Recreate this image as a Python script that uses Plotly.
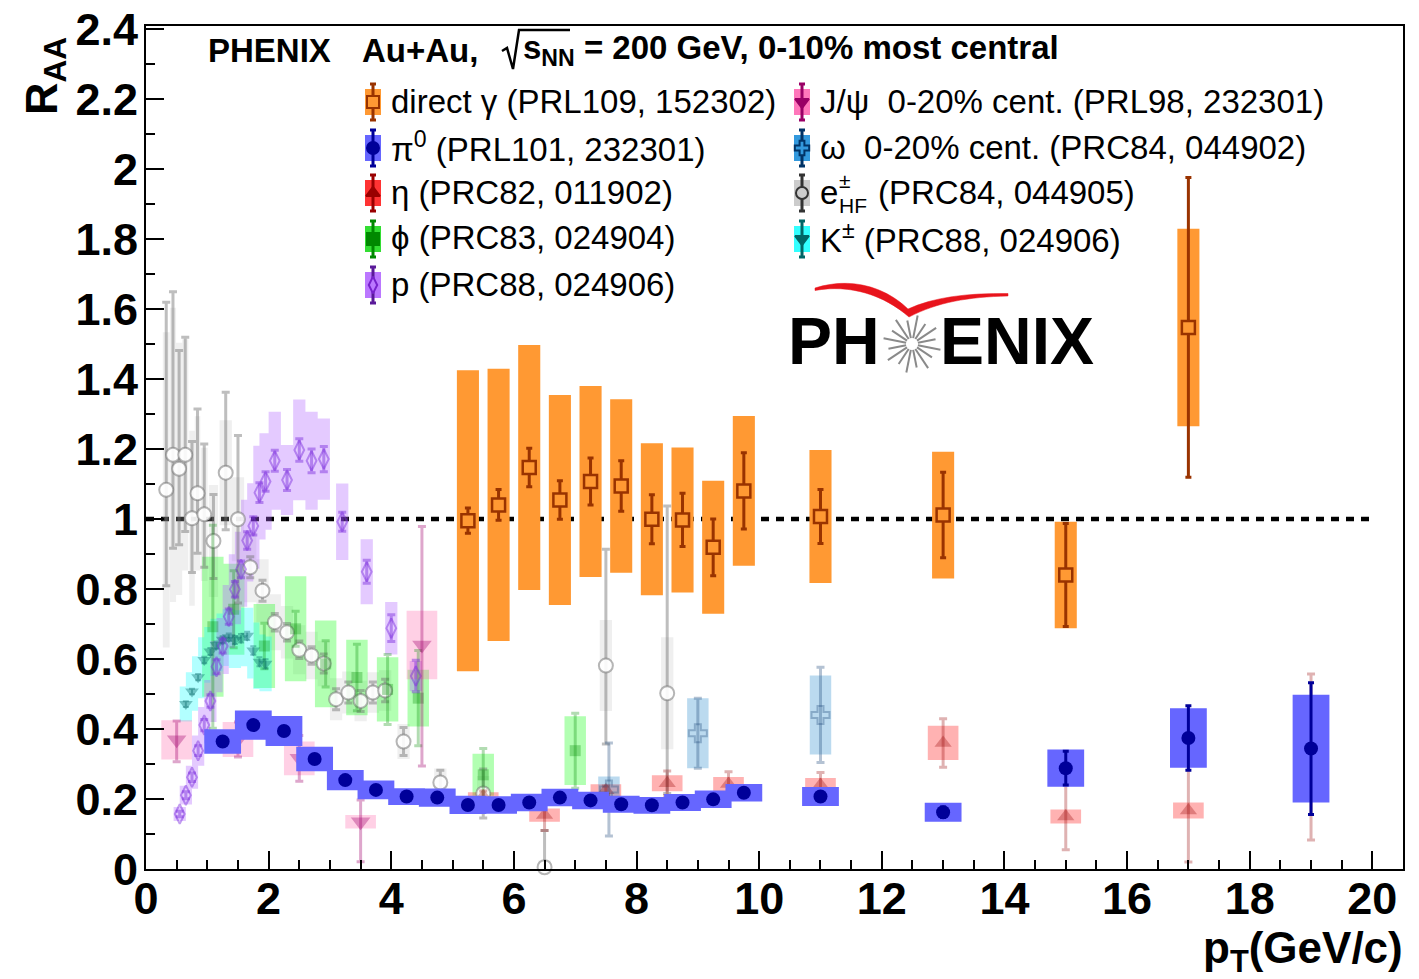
import math
import numpy as np
import plotly.graph_objects as go

# ---------------------------------------------------------------- data
# pi0 (PRL101, 232301)
pi0_pt   = [1.25, 1.75, 2.25, 2.75, 3.25, 3.75, 4.25, 4.75, 5.25, 5.75, 6.25, 6.75, 7.25, 7.75,
            8.25, 8.75, 9.25, 9.75, 11, 13, 15, 17, 19]
pi0_raa  = [0.364, 0.411, 0.394, 0.314, 0.254, 0.226, 0.207, 0.204, 0.183, 0.183, 0.19, 0.204,
            0.196, 0.185, 0.182, 0.19, 0.199, 0.218, 0.207, 0.162, 0.288, 0.374, 0.344]
pi0_stat = [0.005, 0.005, 0.005, 0.005, 0.004, 0.004, 0.004, 0.004, 0.004, 0.004, 0.005, 0.005,
            0.005, 0.006, 0.006, 0.007, 0.008, 0.009, 0.012, 0.015, 0.048, 0.092, 0.188]
pi0_sys  = [0.035, 0.042, 0.043, 0.035, 0.029, 0.027, 0.024, 0.026, 0.026, 0.025, 0.025, 0.025,
            0.025, 0.024, 0.024, 0.024, 0.025, 0.025, 0.027, 0.027, 0.053, 0.085, 0.154]

# direct photon (PRL109, 152302)
gam_pt   = [5.25, 5.75, 6.25, 6.75, 7.25, 7.75, 8.25, 8.75, 9.25, 9.75, 11, 13, 15, 17]
gam_raa  = [0.995, 1.04, 1.147, 1.054, 1.107, 1.094, 0.999, 0.997, 0.919, 1.08, 1.007, 1.011, 0.84, 1.547]
gam_stat = [0.036, 0.044, 0.055, 0.055, 0.067, 0.072, 0.07, 0.076, 0.081, 0.109, 0.077, 0.122, 0.147, 0.428]
gam_sys  = [0.43, 0.389, 0.35, 0.3, 0.273, 0.248, 0.217, 0.207, 0.19, 0.214, 0.19, 0.181, 0.152, 0.282]

# eta (PRC82, 011902)
eta_pt   = [5.5, 6.5, 7.5, 8.5, 9.5, 11, 13, 15, 17, 19]
eta_raa  = [0.208, 0.154, 0.225, 0.245, 0.243, 0.24, 0.36, 0.15, 0.167, 0.32]
eta_stat = [0.015, 0.044, 0.012, 0.035, 0.035, 0.036, 0.069, 0.095, 0.147, 0.237]
eta_sys  = [0.011, 0.019, 0.017, 0.023, 0.02, 0.02, 0.049, 0.02, 0.023, 0.04]

# phi (PRC83, 024904)
phi_pt   = [1.09, 1.43, 1.93, 2.44, 2.93, 3.44, 3.94, 4.44, 5.5, 7.0]
phi_raa  = [0.692, 0.742, 0.637, 0.686, 0.586, 0.547, 0.513, 0.488, 0.269, 0.338]
phi_stat = [0.29, 0.11, 0.065, 0.05, 0.066, 0.095, 0.1, 0.136, 0.075, 0.107]
phi_sys  = [0.2, 0.13, 0.12, 0.15, 0.124, 0.108, 0.092, 0.081, 0.06, 0.098]

# protons (PRC88, 024906)
p_pt   = [0.55, 0.65, 0.75, 0.85, 0.95, 1.05, 1.15, 1.25, 1.35, 1.45, 1.55, 1.65, 1.75, 1.85, 1.95,
          2.1, 2.3, 2.5, 2.7, 2.9, 3.2, 3.6, 4.0, 4.4]
p_raa  = [0.157, 0.211, 0.262, 0.338, 0.411, 0.48, 0.578, 0.637, 0.721, 0.799, 0.856, 0.938, 0.98,
          1.075, 1.107, 1.166, 1.111, 1.197, 1.166, 1.171, 0.992, 0.849, 0.688, 0.551]
p_stat = [0.008, 0.01, 0.012, 0.014, 0.016, 0.018, 0.02, 0.02, 0.022, 0.022, 0.024, 0.025, 0.026,
          0.028, 0.028, 0.03, 0.03, 0.032, 0.034, 0.036, 0.027, 0.033, 0.038, 0.045]
p_sys  = [0.02, 0.027, 0.033, 0.043, 0.052, 0.06, 0.073, 0.08, 0.09, 0.1, 0.107, 0.117, 0.122,
          0.134, 0.138, 0.14, 0.1, 0.144, 0.14, 0.116, 0.109, 0.093, 0.075, 0.043]

# J/psi, 0-20% (PRL98, 232301)
jpsi_pt     = [0.5, 1.5, 2.5, 3.5, 4.5]
jpsi_raa    = [0.369, 0.37, 0.316, 0.135, 0.64]
jpsi_err_up = [0.054, 0.05, 0.065, 0.062, 0.338]
jpsi_err_dn = [0.063, 0.05, 0.065, 0.114, 0.346]
jpsi_sys    = [0.056, 0.05, 0.048, 0.019, 0.098]

# omega, 0-20% (PRC84, 044902)
omg_pt   = [7.55, 9.0, 11.0]
omg_raa  = [0.227, 0.388, 0.44]
omg_stat = [0.133, 0.1, 0.136]
omg_sys  = [0.037, 0.1, 0.113]

# heavy-flavour electrons (PRC84, 044905)
ehf_pt     = [0.33, 0.44, 0.54, 0.64, 0.75, 0.84, 0.95, 1.1, 1.3, 1.5, 1.7, 1.9, 2.1, 2.3, 2.5, 2.7,
              2.9, 3.1, 3.3, 3.5, 3.7, 3.9, 4.2, 4.8, 5.5, 6.5, 7.5, 8.5]
ehf_raa    = [1.083, 1.183, 1.143, 1.183, 1.002, 1.073, 1.013, 0.937, 1.132, 0.999, 0.862, 0.795,
              0.705, 0.676, 0.626, 0.61, 0.587, 0.485, 0.504, 0.48, 0.504, 0.51, 0.364, 0.247,
              0.216, 0.005, 0.581, 0.502]
ehf_err_up = [0.536, 0.466, 0.338, 0.336, 0.219, 0.241, 0.201, 0.133, 0.23, 0.239, 0.03, 0.03,
              0.025, 0.025, 0.025, 0.025, 0.027, 0.03, 0.03, 0.03, 0.03, 0.032, 0.04, 0.035,
              0.07, 0.105, 0.332, 0.535]
ehf_err_dn = [0.274, 0.267, 0.217, 0.219, 0.155, 0.171, 0.151, 0.107, 0.163, 0.239, 0.03, 0.03,
              0.025, 0.025, 0.025, 0.025, 0.027, 0.03, 0.03, 0.03, 0.03, 0.032, 0.04, 0.035,
              0.07, 0.005, 0.224, 0.286]
ehf_sys    = [0.45, 0.42, 0.36, 0.33, 0.25, 0.22, 0.19, 0.16, 0.15, 0.12, 0.1, 0.09, 0.08, 0.075,
              0.07, 0.068, 0.065, 0.06, 0.06, 0.058, 0.058, 0.058, 0.05, 0.04, 0.05, 0.02, 0.13, 0.16]

# charged kaons (PRC88, 024906)
k_pt   = [0.65, 0.75, 0.85, 0.95, 1.05, 1.15, 1.25, 1.35, 1.45, 1.55, 1.65, 1.75, 1.85, 1.95]
k_raa  = [0.471, 0.507, 0.548, 0.597, 0.621, 0.64, 0.655, 0.662, 0.654, 0.659, 0.666, 0.624, 0.592, 0.586]
k_stat = [0.008, 0.008, 0.009, 0.009, 0.01, 0.01, 0.01, 0.011, 0.011, 0.012, 0.012, 0.012, 0.013, 0.013]
k_sys  = [0.05, 0.055, 0.06, 0.065, 0.07, 0.075, 0.075, 0.08, 0.08, 0.08, 0.08, 0.08, 0.078, 0.078]

x_ticks = [0, 2, 4, 6, 8, 10, 12, 14, 16, 18, 20]
y_ticks = [0, 0.2, 0.4, 0.6, 0.8, 1, 1.2, 1.4, 1.6, 1.8, 2, 2.2, 2.4]

# ---------------------------------------------------------------- geometry
W, H = 1419, 979
ML, MR, MT, MB = 146, 16, 26, 110
PW, PH = W - ML - MR, H - MT - MB
FONT = "Liberation Sans, Arial, Helvetica, sans-serif"


def fx(px):
    return (px - ML) / PW


def fy(py):
    return (H - MB - py) / PH


def box_trace(x, y, half, width, color):
    """Systematic-uncertainty boxes as filled rectangles."""
    if np.isscalar(width):
        width = [width] * len(x)
    xs, ys = [], []
    for xi, yi, si, wi in zip(x, y, half, width):
        xs += [xi - wi / 2, xi + wi / 2, xi + wi / 2, xi - wi / 2, xi - wi / 2, None]
        ys += [yi - si, yi - si, yi + si, yi + si, yi - si, None]
    return go.Scatter(x=xs, y=ys, mode="lines", fill="toself", fillcolor=color,
                      line=dict(width=0, color=color), hoverinfo="skip", showlegend=False)


def point_trace(x, y, up, dn, symbol, size, fill, line, lw, ecolor, ethick, ecap, clip=True):
    return go.Scatter(
        x=x, y=y, mode="markers", showlegend=False, cliponaxis=clip,
        marker=dict(symbol=symbol, size=size, color=fill, line=dict(width=lw, color=line)),
        error_y=dict(type="data", symmetric=False, array=up, arrayminus=dn,
                     color=ecolor, thickness=ethick, width=ecap),
    )


def spacing_width(pt, cap):
    pt = np.asarray(pt, float)
    gaps = np.diff(pt)
    left = np.concatenate([[np.inf], gaps])
    right = np.concatenate([gaps, [np.inf]])
    return np.minimum(cap, np.minimum(left, right)).tolist()


fig = go.Figure()

# reference line at R_AA = 1
fig.add_trace(go.Scatter(x=[0, 20], y=[1, 1], mode="lines", hoverinfo="skip", showlegend=False,
                         line=dict(color="black", width=4.5, dash="8px,7px")))

# systematic boxes of the lighter (low-pT) measurements
fig.add_trace(box_trace(ehf_pt, ehf_raa, ehf_sys, spacing_width(ehf_pt, 0.2), "rgba(190,190,190,0.25)"))
fig.add_trace(box_trace(phi_pt, phi_raa, phi_sys, 0.35, "rgba(0,255,0,0.3)"))
fig.add_trace(box_trace(k_pt, k_raa, k_sys, 0.2, "rgba(0,255,255,0.3)"))
fig.add_trace(box_trace(p_pt, p_raa, p_sys, 0.2, "rgba(178,102,255,0.35)"))
fig.add_trace(box_trace(jpsi_pt, jpsi_raa, jpsi_sys, 0.5, "rgba(255,100,170,0.3)"))
fig.add_trace(box_trace(eta_pt, eta_raa, eta_sys, 0.5, "rgba(255,0,0,0.3)"))
fig.add_trace(box_trace(omg_pt, omg_raa, omg_sys, 0.35, "rgba(60,150,210,0.35)"))

# points with statistical errors
fig.add_trace(point_trace(ehf_pt, ehf_raa, ehf_err_up, ehf_err_dn, "circle", 14,
                          "rgba(255,255,255,0.9)", "rgba(110,110,110,0.5)", 2,
                          "rgba(110,110,110,0.45)", 3, 4, clip=False))
fig.add_trace(point_trace(phi_pt, phi_raa, phi_stat, phi_stat, "square", 11,
                          "rgba(0,140,0,0.3)", "rgba(0,140,0,0.3)", 0, "rgba(0,140,0,0.3)", 3, 4))
fig.add_trace(point_trace(k_pt, k_raa, k_stat, k_stat, "triangle-down", 12,
                          "rgba(0,100,100,0.38)", "rgba(0,100,100,0.38)", 0, "rgba(0,100,100,0.38)", 2, 3))
fig.add_trace(point_trace(p_pt, p_raa, p_stat, p_stat, "diamond-tall-open", 14,
                          "rgba(120,40,220,0.45)", "rgba(120,40,220,0.45)", 2,
                          "rgba(120,40,220,0.45)", 3, 4))
fig.add_trace(point_trace(jpsi_pt, jpsi_raa, jpsi_err_up, jpsi_err_dn, "triangle-down", 17,
                          "rgba(160,0,110,0.35)", "rgba(160,0,110,0.35)", 0,
                          "rgba(160,0,110,0.35)", 3, 4))
fig.add_trace(point_trace(eta_pt, eta_raa, eta_stat, eta_stat, "triangle-up", 15,
                          "rgba(150,0,0,0.3)", "rgba(150,0,0,0.3)", 0, "rgba(150,0,0,0.3)", 3, 4))
fig.add_trace(point_trace(omg_pt, omg_raa, omg_stat, omg_stat, "cross-open", 15,
                          "rgba(40,80,130,0.35)", "rgba(40,80,130,0.35)", 2,
                          "rgba(40,80,130,0.35)", 3, 4))

# direct photons
fig.add_trace(box_trace(gam_pt, gam_raa, gam_sys, 0.36, "#ff9933"))
fig.add_trace(point_trace(gam_pt, gam_raa, gam_stat, gam_stat, "square", 13,
                          "#ff9933", "#993300", 2.5, "#993300", 3, 3))

# neutral pions
fig.add_trace(box_trace(pi0_pt, pi0_raa, pi0_sys, 0.6, "#6666ff"))
fig.add_trace(point_trace(pi0_pt, pi0_raa, pi0_stat, pi0_stat, "circle", 14,
                          "#000099", "#000099", 0, "#000099", 3, 3))

# ---------------------------------------------------------------- legend (drawn by hand)
legend_entries = [
    # text, column, row, box colour, symbol, marker fill, marker line, error colour
    ("direct γ (PRL109, 152302)", 0, 0, "#ff9933", "square", "#ff9933", "#993300", "#993300"),
    ("π<sup>0</sup> (PRL101, 232301)", 0, 1, "#6666ff", "circle", "#000099", "#000099", "#000099"),
    ("η (PRC82, 011902)", 0, 2, "#ff3333", "triangle-up", "#990000", "#990000", "#990000"),
    ("ϕ (PRC83, 024904)", 0, 3, "#33dd33", "square", "#008800", "#008800", "#008800"),
    ("p (PRC88, 024906)", 0, 4, "#bb77ff", "diamond-tall", "#bb77ff", "#7722cc", "#5a1a99"),
    ("J/ψ\u00a0\u00a00-20% cent. (PRL98, 232301)", 1, 0, "#ff77bb", "triangle-down", "#990066", "#990066", "#990066"),
    ("ω\u00a0\u00a00-20% cent. (PRC84, 044902)", 1, 1, "#3399dd", "cross", "#3399dd", "#003366", "#003366"),
    ("", 1, 2, "#cccccc", "circle", "#cccccc", "#333333", "#333333"),
    ("K<sup>±</sup> (PRC88, 024906)", 1, 3, "#33ffff", "triangle-down", "#006666", "#006666", "#006666"),
]
col_x = [373, 802]
row_y = [102, 148, 193, 239, 285]
LEG_SIZE = 33

annotations = []
for text, col, row, bcol, sym, mfill, mline, ecol in legend_entries:
    gx, gy = col_x[col], row_y[row]
    fig.add_trace(go.Scatter(
        x=[gx - 8, gx + 8, gx + 8, gx - 8, gx - 8], y=[gy - 13, gy - 13, gy + 13, gy + 13, gy - 13],
        mode="lines", fill="toself", fillcolor=bcol, line=dict(width=0, color=bcol),
        xaxis="x2", yaxis="y2", hoverinfo="skip", showlegend=False))
    fig.add_trace(go.Scatter(
        x=[gx], y=[gy], mode="markers", xaxis="x2", yaxis="y2", hoverinfo="skip", showlegend=False,
        marker=dict(symbol=sym, size=12, color=mfill, line=dict(width=2, color=mline)),
        error_y=dict(type="data", array=[18], color=ecol, thickness=3, width=3)))
    if text:
        annotations.append(dict(text=text, x=fx(col_x[col] + 16), y=fy(gy - 1), xref="paper", yref="paper",
                                xanchor="left", yanchor="middle", showarrow=False,
                                font=dict(family=FONT, size=LEG_SIZE, color="black")))

# e± from heavy flavour: stacked super/subscript
ehf_parts = [
    dict(text="e", x=fx(818), y=fy(192), size=LEG_SIZE),
    dict(text="±", x=fx(837), y=fy(181), size=21),
    dict(text="HF", x=fx(837), y=fy(206), size=21),
    dict(text="(PRC84, 044905)", x=fx(876), y=fy(192), size=LEG_SIZE),
]
for a in ehf_parts:
    size = a.pop("size")
    a.update(xref="paper", yref="paper", xanchor="left", yanchor="middle", showarrow=False,
             font=dict(family=FONT, size=size, color="black"))
    annotations.append(a)

# header
for text, px in [("<b>PHENIX</b>", 206), ("<b>Au+Au,</b>", 360),
                 ("<b>s<sub>NN</sub> = 200 GeV, 0-10% most central</b>", 521)]:
    annotations.append(dict(text=text, x=fx(px), y=fy(50), xref="paper", yref="paper",
                            xanchor="left", yanchor="middle", showarrow=False,
                            font=dict(family=FONT, size=33, color="black")))

# axis titles
annotations.append(dict(text="<b>R<sub>AA</sub></b>", textangle=-90, x=fx(44), y=fy(76),
                        xref="paper", yref="paper", xanchor="center", yanchor="middle",
                        showarrow=False, font=dict(family=FONT, size=45, color="black")))
annotations.append(dict(text="<b>p<sub>T</sub>(GeV/c)</b>", x=fx(1405), y=fy(951),
                        xref="paper", yref="paper", xanchor="right", yanchor="middle",
                        showarrow=False, font=dict(family=FONT, size=44, color="black")))

# PHENIX logo
for text, px in [("<b>PH</b>", 786), ("<b>ENIX</b>", 938)]:
    annotations.append(dict(text=text, x=fx(px), y=fy(341), xref="paper", yref="paper",
                            xanchor="left", yanchor="middle", showarrow=False,
                            font=dict(family=FONT, size=66, color="black")))

shapes = []


def pline(points, color, width):
    path = "M " + " L ".join(f"{fx(a):.5f},{fy(b):.5f}" for a, b in points)
    return dict(type="path", path=path, xref="paper", yref="paper", line=dict(color=color, width=width))


def pcurve(cmds, color):
    """Closed filled path from (command, points) pairs given in pixels."""
    parts = []
    for cmd, pts in cmds:
        parts.append(cmd + " " + " ".join(f"{fx(a):.5f},{fy(b):.5f}" for a, b in pts))
    return dict(type="path", path=" ".join(parts) + " Z", xref="paper", yref="paper",
                line=dict(color=color, width=0.5), fillcolor=color)


# radical sign over s_NN
shapes.append(pline([(502, 51), (507, 48), (513, 69), (519, 30), (570, 30)], "black", 2.5))

# starburst of the logo
cx, cy = 912, 344
for k in range(16):
    a = k * math.pi / 8 + math.pi / 16
    r2 = 29 if k % 2 == 0 else 24
    shapes.append(pline([(cx + 6 * math.cos(a), cy + 6 * math.sin(a)),
                         (cx + r2 * math.cos(a), cy + r2 * math.sin(a))], "#8a8a8a", 2))

# red swoosh of the logo
shapes.append(pcurve([
    ("M", [(815, 288)]),
    ("C", [(850, 277), (884, 286), (908, 309)]),
    ("C", [(934, 297), (968, 293), (1008, 293.5)]),
    ("L", [(1008, 296)]),
    ("C", [(968, 297), (938, 302), (909, 317)]),
    ("C", [(884, 295), (850, 284), (815, 290.5)]),
], "#e8141c"))

axis_common = dict(showline=True, linecolor="black", linewidth=2, mirror=True, ticks="inside",
                   ticklen=18, tickwidth=2, tickcolor="black", showgrid=False, zeroline=False,
                   automargin=False,
                   tickfont=dict(family=FONT, size=45, color="black", weight="bold"))

fig.update_layout(
    width=W, height=H, margin=dict(l=ML, r=MR, t=MT, b=MB, autoexpand=False),
    paper_bgcolor="white", plot_bgcolor="white", showlegend=False,
    xaxis=dict(range=[0, 20.5], tickmode="array", tickvals=x_ticks, ticklabelstandoff=-11,
               minor=dict(dtick=0.5, tick0=0, ticks="inside", ticklen=9, tickwidth=2,
                          tickcolor="black", showgrid=False),
               **axis_common),
    yaxis=dict(range=[0, 2.408], tickmode="array", tickvals=y_ticks, ticklabelstandoff=-3,
               minor=dict(dtick=0.1, tick0=0, ticks="inside", ticklen=9, tickwidth=2,
                          tickcolor="black", showgrid=False),
               **axis_common),
    xaxis2=dict(overlaying="x", range=[ML, W - MR], visible=False),
    yaxis2=dict(overlaying="y", range=[H - MB, MT], visible=False),
    annotations=annotations,
    shapes=shapes,
)

fig.write_html("out.html")
